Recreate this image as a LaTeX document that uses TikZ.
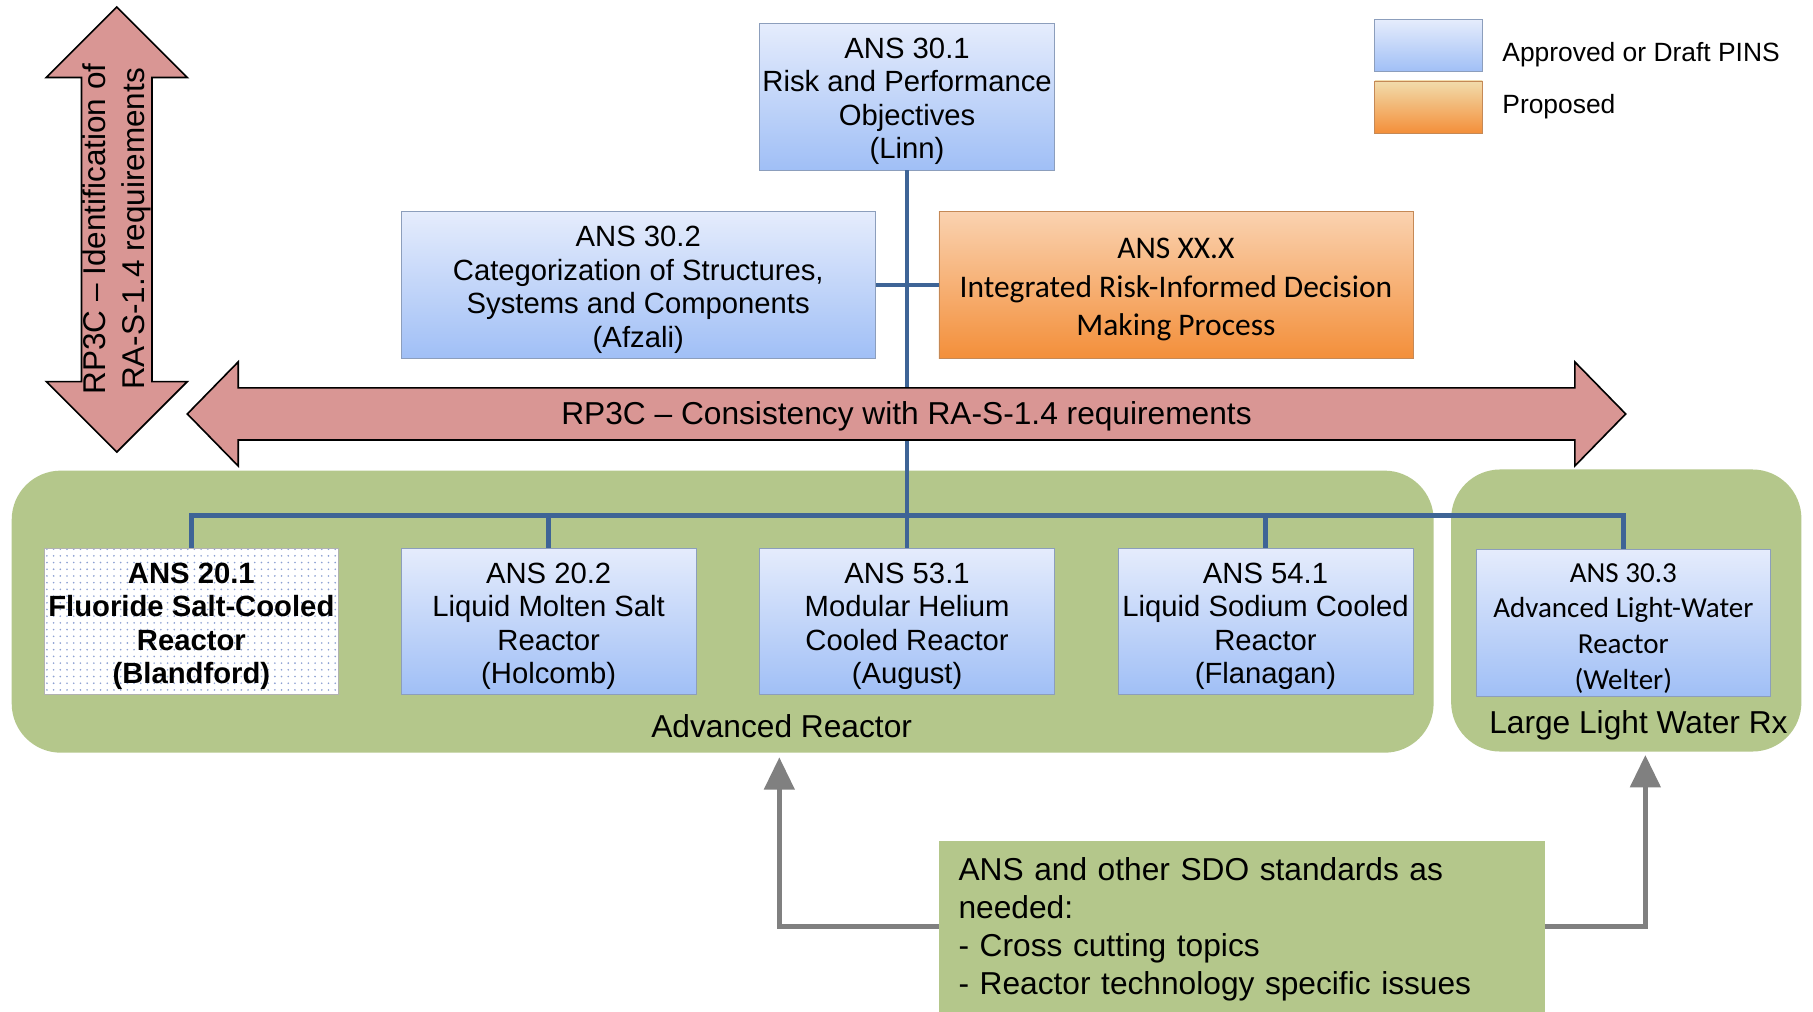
\documentclass[tikz,border=0pt]{standalone}
\usepackage{fontspec}
\setmainfont{Liberation Sans}
\newfontfamily\calibri{Carlito}
\usetikzlibrary{arrows.meta,patterns.meta}

\definecolor{bluetop}{RGB}{229,236,252}
\definecolor{bluebot}{RGB}{160,191,246}
\definecolor{boxline}{RGB}{140,158,188}
\definecolor{orangetop}{RGB}{250,210,176}
\definecolor{orangebot}{RGB}{243,143,58}
\definecolor{legendtop}{RGB}{242,220,172}
\definecolor{groupgreen}{RGB}{180,199,139}
\definecolor{rpred}{RGB}{217,150,148}
\definecolor{busblue}{RGB}{62,100,150}
\definecolor{feedgray}{RGB}{128,128,128}
\definecolor{dotblue}{RGB}{140,160,210}

\newcommand{\toppad}{\rule{0pt}{14.8pt}}

\begin{document}
\begin{tikzpicture}[
    x=0.02cm, y=-0.02cm,
    stdbox/.style={
        draw=boxline,
        minimum width=5.1cm,
        minimum height=2.54cm,
        inner sep=0pt,
        align=center,
        font=\fontsize{14.4}{16.5}\selectfont
    },
    pins/.style={
        stdbox,
        top color=bluetop,
        bottom color=bluebot
    },
    proposed/.style={
        stdbox,
        top color=orangetop,
        bottom color=orangebot,
        draw=orangebot!60!gray
    },
    draft/.style={
        stdbox,
        draw=gray!60,
        preaction={fill=white},
        pattern={Dots[radius=0.45pt, distance=3.3pt]},
        pattern color=dotblue,
        font=\bfseries\fontsize{14.4}{16.5}\selectfont
    },
    techgroup/.style={
        fill=groupgreen,
        rounded corners=0.85cm,
        inner sep=0pt
    },
    rpbar/.style={
        draw=black,
        fill=rpred,
        line width=0.8pt,
        line join=miter
    },
    bus/.style={
        line width=2.2pt,
        draw=busblue
    },
    feed/.style={
        line width=2.3pt,
        draw=feedgray,
        -{Triangle[length=0.56cm, width=0.52cm]}
    }
]

    \path[use as bounding box, fill=white] (0,0) rectangle (1568,875);

    \node[techgroup, minimum width=24.6cm, minimum height=4.88cm] (advgrp) at (625,529) {};
    \node[techgroup, minimum width=6.06cm, minimum height=4.88cm] (lwrgrp) at (1406.5,528) {};
    \node[font=\fontsize{15.6}{18}\selectfont] (advlbl) at (676,628) {Advanced Reactor};
    \node[font=\fontsize{15.6}{18}\selectfont] (lwrlbl) at (1417,627) {Large Light Water Rx};

    \node[pins] (ans301) at (784.5,83.5) {\toppad ANS 30.1\\Risk and Performance\\Objectives\\(Linn)};
    \node[pins, minimum width=8.2cm] (ans302) at (552,246.5) {\toppad ANS 30.2\\Categorization of Structures,\\Systems and Components\\(Afzali)};
    \node[proposed, minimum width=8.2cm, font=\calibri\fontsize{15.5}{19}\selectfont] (ansxx) at (1017,246.5) {\toppad ANS XX.X\\Integrated Risk-Informed Decision\\Making Process};

    \node[pins, minimum width=1.86cm, minimum height=0.9cm] (legpins) at (1235.5,39.5) {};
    \node[proposed, top color=legendtop, minimum width=1.86cm, minimum height=0.9cm] (legprop) at (1235.5,92.5) {};
    \node[anchor=west, inner sep=0pt, font=\fontsize{13}{15}\selectfont] (legpinstxt) at (1299,47) {Approved or Draft PINS};
    \node[anchor=west, inner sep=0pt, font=\fontsize{13}{15}\selectfont] (legproptxt) at (1299,92) {Proposed};

    \node[draft] (ans201) at (165.5,537.5) {\toppad ANS 20.1\\Fluoride Salt-Cooled\\Reactor\\(Blandford)};
    \node[pins] (ans202) at (474.5,537.5) {\toppad ANS 20.2\\Liquid Molten Salt\\Reactor\\(Holcomb)};
    \node[pins] (ans531) at (784.5,537.5) {\toppad ANS 53.1\\Modular Helium\\Cooled Reactor\\(August)};
    \node[pins] (ans541) at (1094.5,537.5) {\toppad ANS 54.1\\Liquid Sodium Cooled\\Reactor\\(Flanagan)};
    \node[pins, font=\calibri\fontsize{14.3}{17.6}\selectfont] (ans303) at (1404,538.5) {\toppad ANS 30.3\\Advanced Light-Water\\Reactor\\(Welter)};

    \coordinate (bus) at (784.5,446);
    \draw[bus] (ans301.south) -- (ans531.north);
    \draw[bus] (ans302.east) -- (ansxx.west);
    \foreach \n in {ans201,ans202,ans541,ans303}
        \draw[bus] (bus) -| (\n.north);

    \draw[rpbar] (162,358) -- (206,313) -- (206,335.5) -- (1362,335.5) -- (1362,313) -- (1406,358)
        -- (1362,403) -- (1362,380.5) -- (206,380.5) -- (206,403) -- cycle;
    \node[font=\fontsize{15.6}{18}\selectfont] (rpcons) at (784,360) {RP3C \textendash{} Consistency with RA-S-1.4 requirements};

    \draw[rpbar] (101,6) -- (162,67) -- (131.5,67) -- (131.5,330) -- (162,330) -- (101,391)
        -- (40,330) -- (70.5,330) -- (70.5,67) -- (40,67) -- cycle;
    \node[rotate=90, align=center, font=\fontsize{15.5}{19.6}\selectfont] (rpident) at (101,198) {RP3C \textendash{} Identification of\\RA-S-1.4 requirements};

    \node[fill=groupgreen, minimum width=10.48cm, minimum height=2.96cm, text width=9.8cm, align=left, inner sep=0pt,
        font=\fontsize{15.6}{18.7}\selectfont] (sdo) at (1074,801)
        {\toppad ANS and other SDO standards as\\needed:\\- Cross cutting topics\\- Reactor technology specific issues};

    \coordinate (advin) at (674,655);
    \coordinate (lwrin) at (1423,653);
    \draw[feed] (sdo.west) -| (advin);
    \draw[feed] (sdo.east) -| (lwrin);
\end{tikzpicture}
\end{document}
